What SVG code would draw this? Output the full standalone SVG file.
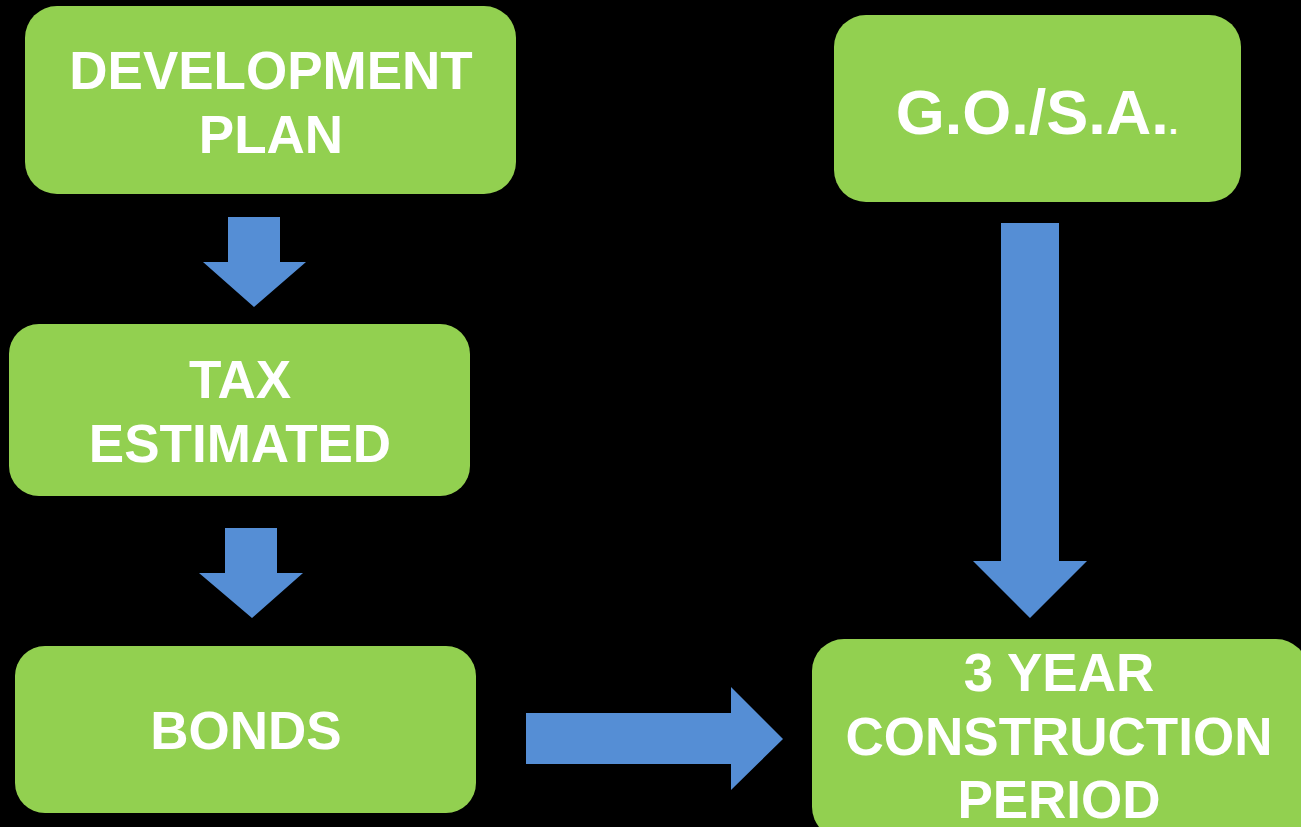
<svg xmlns="http://www.w3.org/2000/svg" width="1301" height="827" viewBox="0 0 1301 827">
  <style>
    .box { fill: #92D050; }
    .lbl { fill: #FFFFFF; font-family: "Liberation Sans", Arial, sans-serif; font-weight: bold; font-size: 53px; text-anchor: middle; }
    .arrow { fill: #558ED5; }
  </style>
  <rect width="1301" height="827" fill="#000000"/>

  <g id="development-plan">
    <rect class="box" x="25" y="6" width="491" height="188" rx="32"/>
    <text class="lbl" x="271" y="89">DEVELOPMENT</text>
    <text class="lbl" x="271" y="153">PLAN</text>
  </g>

  <g id="go-sa">
    <rect class="box" x="834" y="15" width="407" height="187" rx="32"/>
    <text class="lbl" x="1037" y="134" style="font-size:63px">G.O./S.A.<tspan style="font-size:34px">.</tspan></text>
  </g>

  <g id="tax-estimated">
    <rect class="box" x="9" y="324" width="461" height="172" rx="30"/>
    <text class="lbl" x="240" y="398">TAX</text>
    <text class="lbl" x="240" y="462">ESTIMATED</text>
  </g>

  <g id="bonds">
    <rect class="box" x="15" y="646" width="461" height="167" rx="30"/>
    <text class="lbl" x="246" y="749">BONDS</text>
  </g>

  <g id="construction-period">
    <rect class="box" x="812" y="639" width="496" height="200" rx="32"/>
    <text class="lbl" x="1059" y="691">3 YEAR</text>
    <text class="lbl" x="1059" y="755">CONSTRUCTION</text>
    <text class="lbl" x="1059" y="818">PERIOD</text>
  </g>

  <g id="connectors">
    <polygon class="arrow" points="228,217 280,217 280,262 306,262 254,307 203,262 228,262"/>
    <polygon class="arrow" points="225,528 277,528 277,573 303,573 252,618 199,573 225,573"/>
    <polygon class="arrow" points="526,713 731,713 731,687 783,739 731,790 731,764 526,764"/>
    <polygon class="arrow" points="1001,223 1059,223 1059,561 1087,561 1030,618 973,561 1001,561"/>
  </g>
</svg>
